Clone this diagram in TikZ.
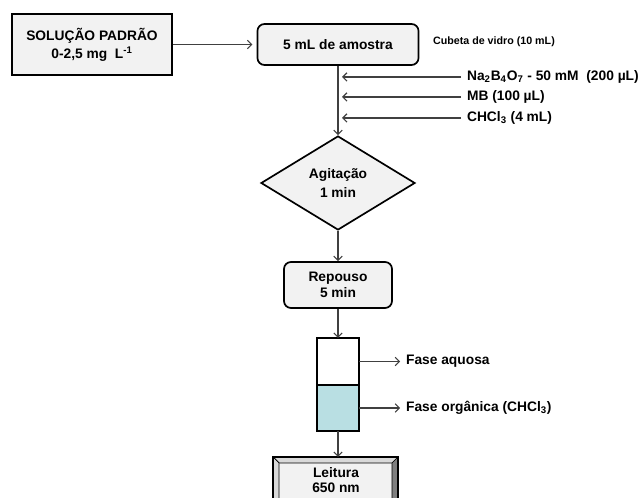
\documentclass[tikz,border=0pt]{standalone}
\usepackage{fontspec}
\setmainfont{Liberation Sans}
\usetikzlibrary{shapes.geometric}
\usetikzlibrary{arrows.meta}
\usetikzlibrary{positioning}

\definecolor{boxfill}{HTML}{F2F2F2}
\definecolor{tubefill}{HTML}{B9DFE3}
\definecolor{linecolor}{HTML}{404040}
\definecolor{bevelescuro}{HTML}{7F7F7F}
\definecolor{bevelclaro}{HTML}{D9D9D9}

\begin{document}
\begin{tikzpicture}[x = 0.025cm, y = -0.025cm, >={Straight Barb[length = 3pt, width = 6pt]},
    linha/.style = {draw = linecolor, line width = 0.8pt},
    caixa/.style = {draw = black, fill = boxfill, line width = 1.2pt, align = center, inner sep = 0pt,
        font = \bfseries\fontsize{9.8}{13}\selectfont},
    etapa/.style = {caixa, rounded corners = 5pt},
    fase/.style = {draw, line width = 1.2pt, inner sep = 0pt, outer sep = 0pt, minimum width = 1.05cm},
    rotulo/.style = {anchor = west, inner sep = 2pt, font = \bfseries\fontsize{9.8}{12}\selectfont}]

    \useasboundingbox (0,0) rectangle (641,498);
    \clip (0,0) rectangle (641,498);

    %\draw[help lines, opacity = 0.1] (0,0) grid[step = 50] (641,498);

    % padrao e cubeta
    \node (padrao) at (92,44.5) [caixa, line width = 1.8pt, minimum width = 4cm, minimum height = 1.525cm]
        {SOLUÇÃO PADRÃO\\0-2,5 mg~ L\textsuperscript{-1}};
    \node (amostra) at (338,44.5) [etapa, minimum width = 4.025cm, minimum height = 1.025cm] {5 mL de amostra};
    \node (cubeta) at (430,42) [rotulo, font = \bfseries\fontsize{7.6}{9}\selectfont] {Cubeta de vidro (10 mL)};

    \draw[linha, ->, shorten > = 3pt] (padrao) -- (amostra);

    % reagentes
    \node (borato) at (464,77) [rotulo] {Na\textsubscript{2}B\textsubscript{4}O\textsubscript{7} - 50 mM ~(200 µL)};
    \node (mb) at (464,97) [rotulo] {MB (100 µL)};
    \node (cloroformio) at (464,118) [rotulo] {CHCl\textsubscript{3} (4 mL)};

    \coordinate (r1) at (342,77);
    \coordinate (r2) at (342,97);
    \coordinate (r3) at (342,118);

    \draw[linha, ->, shorten < = 2pt] (borato.west) -- (r1);
    \draw[linha, ->, shorten < = 2pt] (mb.west) -- (r2);
    \draw[linha, ->, shorten < = 2pt] (cloroformio.west) -- (r3);

    % agitacao e repouso
    \node (agitacao) at (338,183) [caixa, diamond, aspect = 1.64, minimum width = 3.85cm, minimum height = 2.35cm]
        {Agitação\\1 min};
    \node (repouso) at (338,285) [etapa, minimum width = 2.7cm, minimum height = 1.15cm,
        font = \bfseries\fontsize{9.8}{11.5}\selectfont] {Repouso\\5 min};

    \draw[linha, ->] (amostra) -- (agitacao);
    \draw[linha, ->] (agitacao) -- (repouso);

    % tubo com as duas fases
    \node (aquosa) at (338,361.5) [fase, fill = white, minimum height = 1.175cm] {};
    \node (organica) [below = 0pt of aquosa, fase, fill = tubefill, minimum height = 1.15cm] {};

    \node (faseaq) [rotulo, right = 1.1cm of aquosa] {Fase aquosa};
    \node (faseorg) [rotulo, right = 1.1cm of organica] {Fase orgânica (CHCl\textsubscript{3})};

    \draw[linha, ->] (repouso) -- (aquosa);
    \draw[linha, ->, shorten > = 2pt] (aquosa.east) -- (faseaq.west);
    \draw[linha, ->, shorten > = 2pt] (organica.east) -- (faseorg.west);

    % leitura (caixa chanfrada)
    \fill[boxfill] (279,463) rectangle (392,520);
    \filldraw[fill = bevelclaro, draw = black, line width = 0.5pt] (273,457) -- (398,457) -- (392,463) -- (279,463) -- cycle;
    \filldraw[fill = bevelclaro, draw = black, line width = 0.5pt] (273,457) -- (279,463) -- (279,520) -- (273,520) -- cycle;
    \filldraw[fill = bevelescuro, draw = black, line width = 0.5pt] (398,457) -- (392,463) -- (392,520) -- (398,520) -- cycle;
    \draw[black, line width = 1.8pt] (273,520) -- (273,457) -- (398,457) -- (398,520);

    \coordinate (leituraTopo) at (338,457);
    \node (leitura) at (336,480) [align = center, inner sep = 0pt, font = \bfseries\fontsize{9.8}{11}\selectfont]
        {Leitura\\650 nm};

    \draw[linha, ->] (organica) -- (leituraTopo);

\end{tikzpicture}
\end{document}
